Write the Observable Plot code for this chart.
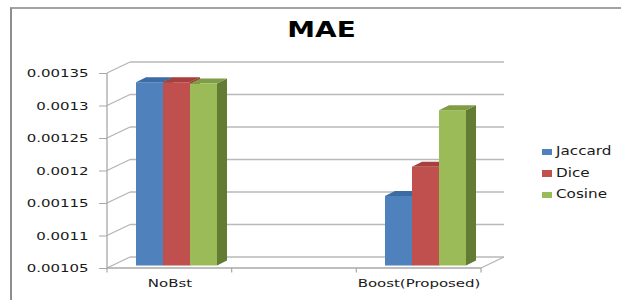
<!DOCTYPE html>
<html>
<head>
<meta charset="utf-8">
<script src="https://cdn.jsdelivr.net/npm/d3@7"></script>
<script src="https://cdn.jsdelivr.net/npm/@observablehq/plot@0.6"></script>
<style>
  html, body { margin: 0; padding: 0; background: #ffffff; }
  #wrap { position: relative; width: 621px; height: 300px; overflow: hidden; background: #ffffff; }
  #wrap svg { position: absolute; left: 0; top: 0; }
  #frame { position: absolute; left: 10px; top: 7px; width: 800px; height: 400px;
           border-left: 2px solid #8e8e8e; border-top: 2px solid #a3a3a3; pointer-events: none; }
  #title { position: absolute; left: 0; top: 20px; width: 643px; text-align: center;
           font: bold 21px/21px "DejaVu Sans", sans-serif; color: #000; transform: scaleX(1.33); }
  .lg-sw { position: absolute; width: 9.5px; height: 6.5px; }
  .lg-tx { position: absolute; font: 13px/13px "DejaVu Sans", sans-serif; color: #1a1a1a;
           transform: scaleX(1.17); transform-origin: left center; white-space: nowrap; }
</style>
</head>
<body>
<div id="wrap">
  <div id="title">MAE</div>
</div>
<script>
// ---------------- data ----------------
const groups = ["NoBst", "Boost(Proposed)"];
const series = ["Jaccard", "Dice", "Cosine"];
const jaccard = [0.001332, 0.001157];
const dice = [0.001332, 0.001202];
const cosine = [0.00133, 0.001289];
const yTicks = [0.00105, 0.0011, 0.00115, 0.0012, 0.00125, 0.0013, 0.00135];
const yTickLabels = ["0.00105", "0.0011", "0.00115", "0.0012", "0.00125", "0.0013", "0.00135"];

// ---------------- styles ----------------
const frontColors = ["#4F81BD", "#C0504D", "#9BBB59"];
const topColors = ["#3D6BA4", "#A5403D", "#7F9C46"];
const sideColors = ["#2F5586", "#8A3331", "#627C34"];

const seriesValues = [jaccard, dice, cosine];
const rows = groups.flatMap((g, i) => series.map((s, j) => ({group: g, series: s, value: seriesValues[j][i]})));
const yMin = yTicks[0], yMax = yTicks[yTicks.length - 1];

const plot = Plot.plot({
  width: 621,
  height: 300,
  marginLeft: 107,
  marginRight: 140,
  marginTop: 73,
  marginBottom: 32,
  style: {fontFamily: "DejaVu Sans", fontSize: "11px", color: "#1a1a1a", background: "transparent", overflow: "visible"},
  facet: {data: rows, x: "group"},
  // the chart leaves one empty category slot between the two groups
  fx: {domain: groups, paddingInner: 0.5, paddingOuter: 0, axis: "bottom", tickSize: 0, tickPadding: 11, label: null},
  x: {domain: series, paddingInner: 0, paddingOuter: 0.75, align: 0.55, axis: null, label: null},
  y: {domain: [yMin, yMax], ticks: yTicks, tickFormat: d => yTickLabels[yTicks.indexOf(d)], tickSize: 8, tickPadding: 11, label: null},
  color: {domain: series, range: frontColors},
  marks: [
    Plot.barY(rows, {x: "series", y1: () => yMin, y2: "value", fill: "series", dx: 5, dy: -2.5})
  ]
});

const wrap = document.getElementById("wrap");
wrap.insertBefore(plot, wrap.firstChild);

// ---------------- 3D decoration from Plot's scales ----------------
const NS = "http://www.w3.org/2000/svg";
function el(name, attrs) {
  const e = document.createElementNS(NS, name);
  for (const k in attrs) e.setAttribute(k, attrs[k]);
  return e;
}
const sy = plot.scale("y");
const sfx = plot.scale("fx");
const yS = d3.scaleLinear(sy.domain, sy.range);
const fxS = d3.scaleBand(sfx.domain, sfx.range)
  .paddingInner(sfx.paddingInner ?? 0).paddingOuter(sfx.paddingOuter ?? 0).align(sfx.align ?? 0.5);
const left = Math.min(...sfx.range), right = Math.max(...sfx.range);
const y0 = yS(yMin);
const wallDX = 23, wallDY = -11;     // depth of the 3D box
const barDX = 10, barDY = -5;        // depth of each column

const wall = el("g", {"aria-label": "3d-wall", fill: "none"});
for (const t of yTicks) {
  const y = yS(t);
  wall.appendChild(el("line", {x1: left + wallDX, y1: y + wallDY, x2: right + wallDX, y2: y + wallDY, stroke: "#b9b9b9", "stroke-width": 1.4}));
  wall.appendChild(el("line", {x1: left, y1: y, x2: left + wallDX, y2: y + wallDY, stroke: "#b3b3b3", "stroke-width": 1.2}));
}
wall.appendChild(el("line", {x1: left, y1: yS(yMax), x2: left, y2: y0, stroke: "#a8a8a8", "stroke-width": 1.3}));
wall.appendChild(el("line", {x1: left, y1: y0, x2: right, y2: y0, stroke: "#a8a8a8", "stroke-width": 1.3}));
wall.appendChild(el("line", {x1: right, y1: y0, x2: right + wallDX, y2: y0 + wallDY, stroke: "#b3b3b3", "stroke-width": 1.2}));
const bounds = [];
groups.forEach(g => { bounds.push(fxS(g), fxS(g) + fxS.bandwidth()); });
for (const b of bounds) {
  wall.appendChild(el("line", {x1: b, y1: y0, x2: b, y2: y0 + 4.5, stroke: "#a8a8a8", "stroke-width": 1.2}));
}
plot.insertBefore(wall, plot.firstChild);

// top and side faces of each column, placed behind the front faces
const colorIndex = {};
frontColors.forEach((c, i) => colorIndex[c.toLowerCase()] = i);
const rects = Array.from(plot.querySelectorAll("rect")).filter(r => (r.getAttribute("fill") || "").toLowerCase() in colorIndex);
const byParent = new Map();
for (const r of rects) {
  const p = r.parentNode;
  if (!byParent.has(p)) byParent.set(p, []);
  byParent.get(p).push(r);
}
for (const [p, list] of byParent) {
  const faces = el("g", {"aria-label": "3d-faces"});
  if (p.getAttribute("transform")) faces.setAttribute("transform", p.getAttribute("transform"));
  const geo = list.map(r => ({
    x: +r.getAttribute("x"), y: +r.getAttribute("y"),
    w: +r.getAttribute("width"), h: +r.getAttribute("height"),
    i: colorIndex[r.getAttribute("fill").toLowerCase()]
  })).sort((a, b) => a.x - b.x);
  for (const g of geo) {
    const x2 = g.x + g.w, yb = g.y + g.h;
    faces.appendChild(el("polygon", {
      points: `${x2},${g.y} ${x2 + barDX},${g.y + barDY} ${x2 + barDX},${yb + barDY} ${x2},${yb}`,
      fill: sideColors[g.i]
    }));
  }
  for (const g of geo) {
    const x2 = g.x + g.w;
    faces.appendChild(el("polygon", {
      points: `${g.x},${g.y} ${x2},${g.y} ${x2 + barDX},${g.y + barDY} ${g.x + barDX},${g.y + barDY}`,
      fill: topColors[g.i]
    }));
  }
  p.parentNode.insertBefore(faces, p);
}

// axis ticks grey, axis text stretched like the reference
plot.querySelectorAll("[aria-label^='y-axis'] line, [aria-label^='y-axis'] path").forEach(e => {
  e.setAttribute("stroke", "#a8a8a8"); e.style.stroke = "#a8a8a8";
});
plot.querySelectorAll("text").forEach(t => {
  const L = t.getComputedTextLength();
  if (L > 0.5) {
    t.setAttribute("textLength", (L * 1.36).toFixed(2));
    t.setAttribute("lengthAdjust", "spacingAndGlyphs");
  }
});

// ---------------- legend ----------------
const legendX = 542, legendBase = 155, legendStep = 21.6;
series.forEach((s, i) => {
  const base = legendBase + i * legendStep;
  const sw = document.createElement("div");
  sw.className = "lg-sw";
  sw.style.left = legendX + "px";
  sw.style.top = (base - 6.5) + "px";
  sw.style.background = frontColors[i];
  wrap.appendChild(sw);
  const tx = document.createElement("div");
  tx.className = "lg-tx";
  tx.style.left = (legendX + 14) + "px";
  tx.style.top = (base - 11) + "px";
  tx.textContent = s;
  wrap.appendChild(tx);
});

const frame = document.createElement("div");
frame.id = "frame";
wrap.appendChild(frame);
</script>
</body>
</html>
